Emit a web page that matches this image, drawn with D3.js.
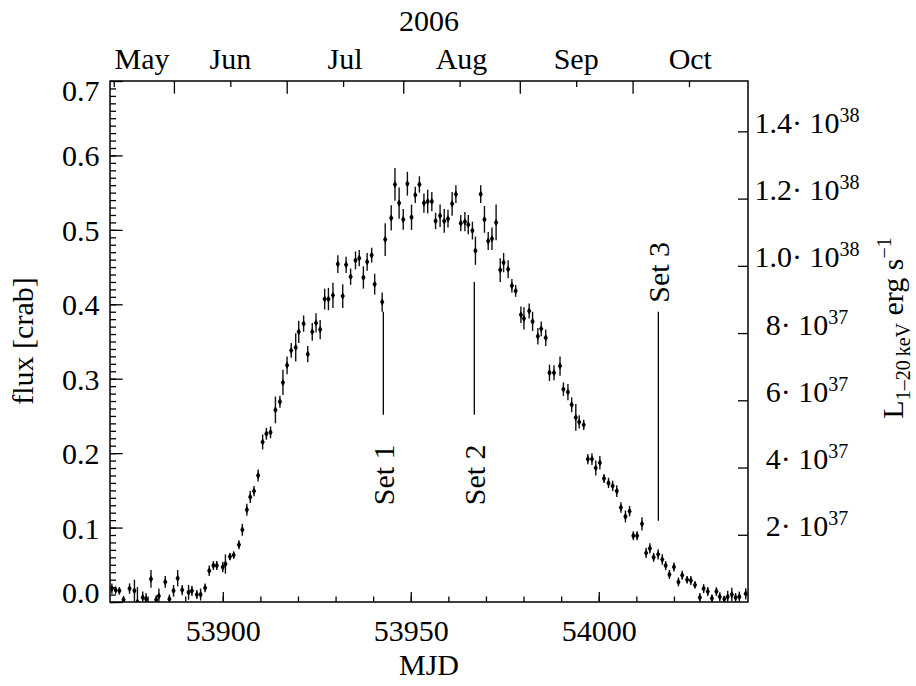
<!DOCTYPE html>
<html>
<head>
<meta charset="utf-8">
<script src="https://cdn.jsdelivr.net/npm/d3@7"></script>
<style>
  body { margin: 0; background: #fff; }
  svg { display: block; }
  text { font-family: "Liberation Serif", "Times New Roman", serif; fill: #000; }
</style>
</head>
<body>
<div id="chart"></div>
<script>
// light curve, flux in crab units with 1-sigma errors
var mjd = [53870.5, 53871.5, 53872.5, 53873.6, 53875.2, 53876.5, 53877.3, 53878.7, 53879.6, 53880.9,
  53882.3, 53883.0, 53884.7, 53885.8, 53886.9, 53888.0, 53889.2, 53890.9, 53891.8, 53893.1,
  53894.1, 53895.3, 53896.4, 53897.5, 53898.4, 53900.0, 53900.7, 53901.9, 53902.9, 53904.3,
  53905.2, 53906.4, 53907.3, 53908.3, 53909.4, 53910.6, 53911.6, 53912.7, 53914.0, 53915.2,
  53916.0, 53917.1, 53918.2, 53919.4, 53920.2, 53921.5, 53922.6, 53923.8, 53924.8, 53925.9,
  53927.1, 53928.1, 53929.3, 53930.6, 53931.9, 53932.8, 53934.0, 53935.3, 53936.3, 53937.4,
  53938.4, 53939.6, 53940.4, 53942.4, 53943.2, 53944.8, 53945.8, 53946.9, 53948.0, 53949.1,
  53950.2, 53951.2, 53952.3, 53953.5, 53954.5, 53955.6, 53956.6, 53957.8, 53958.9, 53959.9,
  53961.0, 53962.0, 53963.3, 53964.4, 53965.3, 53966.4, 53967.2, 53968.6, 53969.6, 53970.6,
  53971.6, 53972.7, 53973.8, 53974.7, 53975.9, 53976.9, 53977.9, 53979.3, 53980.1, 53981.5,
  53982.4, 53983.8, 53984.7, 53985.9, 53986.9, 53988.1, 53989.7, 53990.6, 53991.8, 53992.8,
  53993.9, 53994.8, 53996.0, 53997.1, 53998.2, 53999.2, 54000.3, 54001.4, 54002.6, 54003.7,
  54004.8, 54005.9, 54007.1, 54008.2, 54009.2, 54010.2, 54011.5, 54012.6, 54013.6, 54014.6,
  54015.8, 54016.9, 54017.8, 54018.8, 54020.0, 54021.2, 54022.2, 54023.5, 54024.5, 54025.6,
  54026.9, 54027.9, 54029.0, 54030.1, 54031.3, 54032.2, 54033.4, 54034.3, 54035.4, 54036.4,
  54037.4, 54039.1];

var flux = [0.018, 0.016, 0.015, 0.003, 0.018, 0.015, 0.000, 0.006, 0.004, 0.031,
  0.003, 0.008, 0.027, 0.004, 0.015, 0.032, 0.016, 0.013, 0.015, 0.010,
  0.010, 0.019, 0.042, 0.049, 0.049, 0.047, 0.051, 0.061, 0.063, 0.077,
  0.097, 0.124, 0.141, 0.149, 0.170, 0.215, 0.226, 0.228, 0.258, 0.269,
  0.295, 0.318, 0.338, 0.342, 0.363, 0.374, 0.333, 0.363, 0.375, 0.366,
  0.407, 0.407, 0.412, 0.454, 0.411, 0.453, 0.437, 0.459, 0.462, 0.436,
  0.457, 0.466, 0.427, 0.403, 0.487, 0.516, 0.561, 0.536, 0.514, 0.562,
  0.517, 0.547, 0.561, 0.536, 0.538, 0.538, 0.512, 0.519, 0.512, 0.515,
  0.535, 0.548, 0.509, 0.511, 0.507, 0.499, 0.472, 0.548, 0.514, 0.485,
  0.488, 0.510, 0.446, 0.456, 0.447, 0.425, 0.418, 0.386, 0.381, 0.391,
  0.377, 0.357, 0.367, 0.355, 0.308, 0.308, 0.317, 0.286, 0.282, 0.265,
  0.248, 0.242, 0.238, 0.192, 0.192, 0.180, 0.187, 0.166, 0.160, 0.156,
  0.149, 0.127, 0.115, 0.122, 0.089, 0.089, 0.105, 0.066, 0.072, 0.060,
  0.064, 0.057, 0.049, 0.037, 0.047, 0.027, 0.036, 0.030, 0.029, 0.023,
  0.006, 0.018, 0.014, 0.005, 0.014, 0.007, 0.004, 0.007, 0.010, 0.006,
  0.007, 0.011];

var fluxErr = [0.007, 0.005, 0.005, 0.005, 0.007, 0.015, 0.020, 0.008, 0.008, 0.012,
  0.006, 0.010, 0.008, 0.006, 0.008, 0.011, 0.007, 0.010, 0.007, 0.006,
  0.008, 0.006, 0.007, 0.006, 0.006, 0.007, 0.013, 0.005, 0.005, 0.006,
  0.008, 0.008, 0.008, 0.007, 0.008, 0.010, 0.008, 0.008, 0.018, 0.008,
  0.017, 0.012, 0.010, 0.019, 0.015, 0.011, 0.011, 0.012, 0.013, 0.013,
  0.014, 0.015, 0.017, 0.012, 0.016, 0.011, 0.011, 0.012, 0.011, 0.015,
  0.012, 0.010, 0.014, 0.013, 0.022, 0.017, 0.022, 0.021, 0.014, 0.016,
  0.017, 0.011, 0.011, 0.013, 0.016, 0.013, 0.011, 0.015, 0.016, 0.012,
  0.016, 0.012, 0.011, 0.013, 0.013, 0.012, 0.019, 0.012, 0.018, 0.012,
  0.015, 0.024, 0.016, 0.013, 0.012, 0.009, 0.008, 0.011, 0.015, 0.010,
  0.013, 0.011, 0.010, 0.011, 0.011, 0.010, 0.013, 0.009, 0.011, 0.010,
  0.018, 0.009, 0.007, 0.007, 0.008, 0.010, 0.009, 0.006, 0.007, 0.007,
  0.008, 0.007, 0.008, 0.007, 0.006, 0.006, 0.009, 0.007, 0.007, 0.006,
  0.007, 0.007, 0.006, 0.006, 0.006, 0.006, 0.006, 0.005, 0.006, 0.005,
  0.006, 0.006, 0.006, 0.005, 0.006, 0.006, 0.004, 0.008, 0.009, 0.006,
  0.007, 0.0075];

// axis stuff
var mjdRange = [53870, 54039.7];
var fluxTicks = [0, 0.1, 0.2, 0.3, 0.4, 0.5, 0.6, 0.7];
var mjdTicks = [53900, 53950, 54000];
var monthNames = ['May', 'Jun', 'Jul', 'Aug', 'Sep', 'Oct'];
var monthStarts = [53856, 53887, 53917, 53948, 53979, 54009, 54040]; // 1st of May..Nov 2006
var crabLum = 2.214e38; // erg/s for 1 crab
var lumMantissa = ['2', '4', '6', '8', '1.0', '1.2', '1.4'];
var lumExponent = [37, 37, 37, 37, 38, 38, 38];
var lumTicks = [2e37, 4e37, 6e37, 8e37, 1.0e38, 1.2e38, 1.4e38];

// observation sets: position, line extent (flux), label start (flux)
var setNames = ['Set 1', 'Set 2', 'Set 3'];
var setMjd = [53942.7, 53966.9, 54015.85];
var setLineLow = [0.2515, 0.2515, 0.109];
var setLineHigh = [0.390, 0.430, 0.390];
var setLabelAt = [0.130, 0.130, 0.402];

var W = 916, H = 686;
var L = 110, R = 748, T = 81, B = 602;

var svg = d3.select('#chart').append('svg').attr('width', W).attr('height', H);

var x = d3.scaleLinear().domain(mjdRange).range([L, R]);
var y = d3.scaleLinear().domain([0, 0.7]).range([B, T]);
var yL = d3.scaleLinear().domain([0, 0.7 * crabLum]).range([B, T]);

function styleAxis(g) {
  g.select('.domain').remove();
  g.selectAll('.tick line').attr('stroke', '#000').attr('stroke-width', 1.3);
  g.selectAll('text').style('font-family', '"Liberation Serif", serif').style('font-size', '30px').attr('fill', '#000');
}

// minor ticks
svg.append('g').attr('transform', 'translate(0,' + B + ')')
  .call(d3.axisBottom(x).tickValues(d3.range(53880, 54040, 10)).tickSizeInner(-5.5).tickSizeOuter(0).tickFormat(''))
  .call(styleAxis);
svg.append('g').attr('transform', 'translate(' + L + ',0)')
  .call(d3.axisLeft(y).tickValues(d3.range(0, 70).map(function(i) { return i / 100; })).tickSizeInner(-6).tickSizeOuter(0).tickFormat(''))
  .call(styleAxis);

var midMonths = monthStarts.slice(0, 6).map(function(d) { return d + 15; }).filter(function(d) { return d >= mjdRange[0]; });
svg.append('g').attr('transform', 'translate(0,' + T + ')')
  .call(d3.axisTop(x).tickValues(midMonths).tickSizeInner(-6).tickSizeOuter(0).tickFormat(''))
  .call(styleAxis);

// major ticks
svg.append('g').attr('transform', 'translate(0,' + B + ')')
  .call(d3.axisBottom(x).tickValues(mjdTicks).tickSizeInner(-10).tickSizeOuter(0).tickFormat(d3.format('d')))
  .call(styleAxis)
  .call(function(g) {
    g.selectAll('text').attr('dy', null).attr('y', 39);
  });

svg.append('g').attr('transform', 'translate(' + L + ',0)')
  .call(d3.axisLeft(y).tickValues(fluxTicks).tickSizeInner(-12.7).tickSizeOuter(0).tickPadding(10.5).tickFormat(d3.format('.1f')))
  .call(styleAxis)
  .call(function(g) {
    g.selectAll('text').attr('dy', null).attr('y', function(d) {
      if (d === 0) return 0;
      if (d >= 0.7) return 19.5;
      return 10.5;
    });
  });

svg.append('g').attr('transform', 'translate(0,' + T + ')')
  .call(d3.axisTop(x).tickValues(monthStarts.filter(function(d) { return d > mjdRange[0] && d < mjdRange[1]; }))
    .tickSizeInner(-12.7).tickSizeOuter(0).tickFormat(''))
  .call(styleAxis);

// luminosity axis on the right
svg.append('g').attr('transform', 'translate(' + R + ',0)')
  .call(d3.axisRight(yL).tickValues(lumTicks).tickSizeInner(-10).tickSizeOuter(0).tickFormat(''))
  .call(styleAxis)
  .call(function(g) {
    g.selectAll('.tick').each(function(d, i) {
      var t = d3.select(this).append('text')
        .attr('x', 59).attr('y', 1)
        .attr('text-anchor', 'middle')
        .style('font-size', '30px');
      t.append('tspan').text(lumMantissa[i] + '\u00b7 10');
      t.append('tspan').attr('dy', -11).style('font-size', '20px').text(lumExponent[i]);
    });
  });

// frame
svg.append('rect')
  .attr('x', L).attr('y', T).attr('width', R - L).attr('height', B - T)
  .attr('fill', 'none').attr('stroke', '#000').attr('stroke-width', 1.5);

// month labels centred on the visible part of each month
var monthG = svg.append('g');
monthNames.forEach(function(name, i) {
  var a = Math.max(monthStarts[i], mjdRange[0]);
  var b = Math.min(monthStarts[i + 1], mjdRange[1]);
  monthG.append('text')
    .attr('x', x((a + b) / 2)).attr('y', 69)
    .attr('text-anchor', 'middle')
    .style('font-size', '30px')
    .text(name);
});

svg.append('text').attr('x', (L + R) / 2).attr('y', 31)
  .attr('text-anchor', 'middle').style('font-size', '30px').text('2006');

svg.append('text').attr('x', (L + R) / 2).attr('y', 675)
  .attr('text-anchor', 'middle').style('font-size', '30px').text('MJD');

svg.append('text')
  .attr('transform', 'translate(33,341) rotate(-90)')
  .attr('text-anchor', 'middle').style('font-size', '30px').text('flux [crab]');

var rt = svg.append('text')
  .attr('transform', 'translate(903,328) rotate(-90)')
  .attr('text-anchor', 'middle').style('font-size', '30px');
rt.append('tspan').text('L');
rt.append('tspan').attr('dy', 7).style('font-size', '20px').text('1\u201320\u2009keV');
rt.append('tspan').attr('dy', -7).text(' erg s');
rt.append('tspan').attr('dy', -12).style('font-size', '20px').text('\u22121');

// data
svg.append('clipPath').attr('id', 'plotclip')
  .append('rect').attr('x', L).attr('y', T).attr('width', R - L).attr('height', B - T);

var points = mjd.map(function(d, i) {
  return { mjd: d, flux: flux[i], err: fluxErr[i] };
});

var dataG = svg.append('g').attr('clip-path', 'url(#plotclip)');

dataG.selectAll('line.err').data(points).enter().append('line')
  .attr('class', 'err')
  .attr('x1', function(d) { return x(d.mjd); })
  .attr('x2', function(d) { return x(d.mjd); })
  .attr('y1', function(d) { return y(d.flux - d.err); })
  .attr('y2', function(d) { return y(d.flux + d.err); })
  .attr('stroke', '#111')
  .attr('stroke-width', 1.4);

dataG.selectAll('path.pt').data(points).enter().append('path')
  .attr('class', 'pt')
  .attr('transform', function(d) { return 'translate(' + x(d.mjd) + ',' + y(d.flux) + ')'; })
  .attr('d', d3.symbol(d3.symbolDiamond).size(16))
  .attr('fill', '#000');

// set markers
setNames.forEach(function(name, i) {
  svg.append('line')
    .attr('x1', x(setMjd[i])).attr('x2', x(setMjd[i]))
    .attr('y1', y(setLineLow[i])).attr('y2', y(setLineHigh[i]))
    .attr('stroke', '#000').attr('stroke-width', 1.3);
  svg.append('text')
    .attr('transform', 'translate(' + (x(setMjd[i]) + 11) + ',' + y(setLabelAt[i]) + ') rotate(-90)')
    .style('font-size', '30px')
    .text(name);
});
</script>
</body>
</html>
